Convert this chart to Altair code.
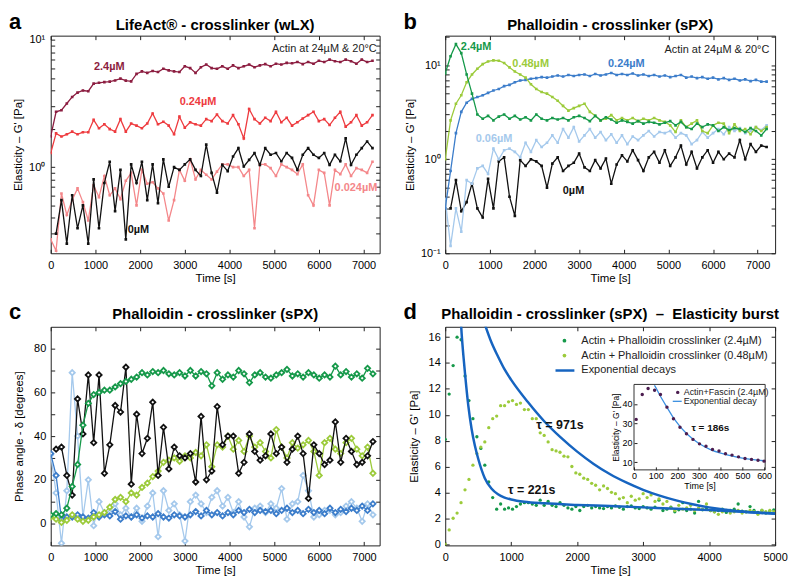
import altair as alt
import pandas as pd

FONT = "Liberation Sans"
TICKC = "#222222"

# ---------------- sampling grids (s) ----------------
T_AB = list(range(0, 7201, 120))
T_AB_LATE = T_AB[1:]
T_D = list(range(0, 4981, 60))

# ---------------- panel a : LifeAct crosslinker (Pa) ----------------
A_24 = [1.74, 2.72, 2.8, 3.16, 3.56, 3.85, 4.0, 3.95, 4.53, 4.6, 4.66, 4.7, 4.8, 4.96, 4.78, 4.72,
        5.4, 5.66, 5.5, 5.7, 5.59, 5.93, 5.76, 5.66, 5.59, 6.2, 6.0, 5.5, 6.1, 6.4, 6.0, 5.93,
        6.2, 5.93, 6.3, 6.0, 6.2, 6.4, 6.1, 6.3, 6.45, 6.2, 6.5, 6.4, 6.6, 6.55, 6.7, 6.45,
        6.7, 6.5, 6.85, 6.7, 7.0, 6.8, 6.7, 7.0, 6.8, 6.5, 7.0, 6.7, 6.85]
A_024 = [1.29, 1.84, 1.74, 1.81, 1.9, 1.81, 1.88, 1.88, 2.35, 2.02, 2.17, 1.99, 1.9, 2.38, 1.9, 2.2,
         2.12, 2.02, 2.2, 2.64, 2.17, 2.27, 2.12, 1.81, 2.49, 2.04, 2.25, 2.17, 2.12, 2.38, 2.3,
         2.59, 2.3, 2.2, 2.56, 2.17, 1.68, 2.86, 2.38, 2.2, 2.44, 2.3, 2.72, 2.25, 2.44, 2.12,
         2.25, 2.41, 2.56, 2.72, 2.3, 2.38, 2.14, 2.44, 2.72, 2.08, 2.25, 2.56, 2.12, 2.25, 2.56]
A_0024 = [0.27, 0.22, 0.62, 0.42, 0.55, 0.68, 0.53, 0.38, 0.72, 0.58, 0.85, 0.6, 0.68, 0.56, 0.78,
          0.9, 0.5, 0.95, 0.74, 0.76, 0.68, 0.62, 0.38, 0.55, 0.95, 0.78, 1.15, 0.8, 0.95, 0.87,
          0.8, 0.92, 1.05, 1.05, 1.0, 1.0, 0.85, 0.95, 0.33, 1.05, 1.05, 0.98, 0.85, 1.05, 1.0,
          0.95, 0.88, 1.05, 0.6, 0.5, 0.95, 0.9, 0.5, 0.95, 0.88, 1.05, 0.85, 0.98, 0.95, 0.9, 1.1]
A_0 = [0.3, 0.55, 0.25, 0.6, 0.33, 0.5, 0.25, 0.8, 0.33, 0.75, 1.1, 0.45, 0.95, 0.27, 1.05, 0.75,
       1.1, 0.55, 1.05, 0.52, 1.15, 0.7, 1.0, 0.95, 1.05, 1.15, 0.95, 0.85, 1.5, 0.9, 0.63, 1.04,
       0.93, 1.21, 1.41, 1.01, 1.14, 1.29, 1.04, 1.41, 1.25, 1.29, 1.11, 1.29, 1.18, 0.95, 1.25,
       1.41, 1.25, 1.18, 1.29, 1.04, 1.25, 1.11, 1.68, 1.04, 1.25, 1.41, 1.59, 1.41]

# ---------------- panel b : Phalloidin crosslinker (Pa) ----------------
B_24 = [8.2, 12.5, 16.8, 13.5, 8.0, 5.0, 3.0, 2.7, 2.9, 2.6, 2.85, 3.0, 2.7, 2.9, 2.65, 2.8, 2.6,
        3.0, 2.7, 2.6, 2.75, 2.65, 2.75, 2.6, 2.8, 2.9, 2.75, 2.55, 2.9, 2.6, 2.8, 2.65, 2.45, 2.6,
        2.5, 2.4, 2.55, 2.4, 2.5, 2.45, 2.35, 2.45, 2.55, 2.3, 2.5, 2.2, 2.1, 2.4, 2.2, 2.35, 2.3,
        2.0, 2.2, 2.05, 2.15, 2.1, 1.95, 2.15, 2.0, 1.8, 2.1]
B_048 = [1.0, 2.6, 3.9, 4.8, 6.6, 8.0, 9.2, 10.3, 11.0, 11.3, 11.2, 10.6, 9.5, 8.6, 8.0, 7.4, 6.3,
         5.6, 5.2, 5.0, 4.6, 4.2, 3.7, 3.3, 3.5, 3.7, 3.9, 3.2, 2.9, 2.6, 2.7, 2.95, 2.6, 2.75, 2.6,
         2.75, 2.55, 2.7, 2.6, 2.75, 2.6, 2.5, 2.3, 1.95, 2.6, 2.2, 2.4, 2.6, 2.0, 1.9, 2.3, 2.45,
         2.4, 1.9, 2.35, 2.0, 2.1, 1.85, 2.2, 2.0, 2.2]
B_024 = [0.3, 0.75, 1.9, 3.2, 4.0, 4.4, 4.6, 4.8, 5.1, 5.4, 5.6, 6.0, 6.2, 6.6, 6.9, 7.0, 7.2, 7.3,
         7.5, 7.4, 7.6, 7.8, 7.6, 7.9, 7.7, 7.9, 8.0, 7.7, 8.1, 7.8, 8.0, 8.3, 7.9, 8.1, 7.9, 8.2,
         7.8, 8.0, 7.7, 7.9, 7.6, 7.8, 7.5, 7.7, 7.9, 7.4, 7.6, 7.3, 7.5, 7.2, 7.4, 7.1, 7.3, 7.0,
         7.2, 6.9, 7.1, 6.8, 7.0, 6.7, 6.7]
B_006 = [0.38, 0.12, 0.3, 0.17, 0.6, 0.55, 0.8, 0.85, 0.7, 1.3, 1.0, 1.25, 1.3, 1.2, 1.05, 1.5, 1.2,
         1.6, 1.35, 1.5, 1.8, 1.5, 2.1, 1.7, 2.2, 1.55, 1.8, 2.1, 1.7, 1.95, 1.6, 1.85, 1.5, 1.8,
         1.45, 1.75, 1.6, 1.8, 2.0, 1.75, 1.95, 1.9, 2.0, 1.7, 1.9, 1.8, 1.45, 1.6, 1.95, 1.7, 1.9,
         2.1, 1.85, 2.2, 2.0, 2.15, 1.9, 2.0, 2.2, 2.05, 2.3]
B_0 = [0.3, 0.6, 0.28, 0.35, 0.55, 0.3, 0.24, 0.62, 0.3, 0.95, 1.05, 0.4, 0.25, 0.98, 0.85, 1.0,
       0.95, 0.85, 0.5, 0.9, 1.05, 0.75, 0.85, 0.92, 1.15, 0.82, 0.75, 0.98, 0.8, 1.02, 0.55, 0.88,
       1.1, 0.95, 1.25, 0.98, 0.75, 1.05, 1.2, 0.92, 1.25, 0.85, 1.05, 1.4, 0.88, 1.2, 0.8, 1.05,
       1.25, 0.92, 1.2, 1.0, 1.15, 1.05, 1.6, 1.0, 1.45, 1.2, 1.4, 1.35]

# ---------------- panel c : phase angle (degrees) ----------------
C_24 = [4, 4.5, 4, 7, 17, 27, 45, 55, 59, 60, 61, 61, 62.5, 64, 65, 66, 67, 69, 68, 69.5, 69, 70,
        68.5, 68, 69, 67.5, 70, 67.5, 69.5, 68.5, 63, 69, 66, 68, 67, 70, 68.5, 64.5, 68, 69, 67,
        66.5, 68, 69, 70.5, 67.5, 68.5, 67, 69, 68, 66.5, 68, 67, 72, 68, 69.5, 67, 68.5, 66.5, 71, 68.5]
C_048 = [3, 2, 0.5, 1.5, 4, 2, 1, 1.5, 3, 4, 5, 7.5, 11, 12, 10, 14, 13, 16.5, 18.5, 21.5, 24, 28,
         29, 30, 28.5, 31, 30, 32.5, 31, 36, 26, 36, 35, 40, 34, 38, 33, 40, 35, 37, 33, 30, 43, 35,
         30, 37, 34.5, 36, 38, 33, 22, 37, 39, 34, 32, 37, 39, 34, 31, 35, 23]
C_0 = [34, 35, 22, 13, 57, 41, 68, 37, 68, 23, 36, 54, 51, 71.5, 18, 50, 32, 39, 55.5, 22, 44, 25,
       35, 31, 30, 32, 19, 49, 20, 24, 53.5, 36, 40, 40, 23, 28, 41, 33, 29, 31, 41, 32, 35, 28, 34,
       40, 32, 11.5, 36, 32, 27, 29, 46.5, 28, 39, 33, 27, 28, 31, 37.5]
C_006 = [31.5, 14, -9, 15, 69, 40, 3, 20, -1, 10, 5, 5, 9, 4, 7, 3, 7, 1, 8, 14, -6, 15, 6, 9, 4,
         -8, 10, 13, 9, 5, 12, 15, 8, 12, 5, 10, 3, -1.5, 7, 8, 5, 9, 7, 16, 2, 9, 10, 22, 15, 3, 4,
         6, 6, 4, 5, 8, 10, 7, 1, 9, 4]
C_024 = [32, 22, 2, 3, 3, 4, 3, 2.5, 5, 3, 4, 3.5, 5.5, 2, 3.5, 3, 4, 2.5, 3.5, 3, 4.5, 3, 2.5, 4,
         3.5, 3, 4, 5.5, 3.5, 6, 4, 5, 3.5, 5, 4, 6, 5, 6.5, 5, 6, 5.5, 6, 4.5, 6, 7, 5, 6, 4.5,
         6.5, 5, 6, 4.5, 7, 5, 6.5, 5.5, 7, 6, 8, 6, 9]

# ---------------- panel d : elasticity burst (Pa) ----------------
D_24 = [8.1, 11.6, 13.8, 16.0, 15.8, 13.0, 11.1, 9.7, 8.3, 7.4,
        6.1, 4.8, 3.6, 2.7, 3.1, 2.7, 2.8, 2.7, 2.9, 3.1,
        3.2, 3.2, 3.1, 3.0, 3.4, 3.0, 3.3, 3.0, 2.9, 3.2,
        3.0, 2.8, 2.7, 2.9, 2.6, 2.9, 3.0, 2.8, 2.9, 2.8,
        2.75, 2.9, 2.8, 2.95, 2.85, 2.7, 2.9, 2.95, 2.8, 2.75,
        2.9, 2.8, 2.7, 2.85, 3.4, 2.6, 2.7, 2.85, 2.5, 2.65,
        3.2, 2.6, 2.7, 2.4, 3.3, 2.65, 2.7, 2.6, 2.5, 2.6,
        2.7, 2.45, 2.6, 2.7, 3.1, 2.55, 2.5, 2.9, 2.6, 2.45,
        2.6, 2.4, 2.55, 2.65]
D_048 = [0.0, 1.1, 2.0, 2.4, 3.2, 4.2, 5.0, 6.1, 7.0, 7.5,
         7.9, 9.0, 9.7, 9.9, 10.7, 10.7, 11.0, 11.1, 10.8, 10.9,
         10.4, 10.4, 9.7, 9.7, 8.6, 8.4, 7.9, 7.3, 7.2, 7.1,
         6.8, 6.75, 6.0, 5.5, 5.4, 5.1, 5.0, 4.7, 4.55, 4.2,
         4.5, 4.3, 4.0, 3.9, 3.5, 3.6, 3.2, 3.7, 3.4, 3.5,
         3.9, 3.6, 3.8, 3.3, 3.5, 3.1, 3.3, 2.8, 2.6, 3.0,
         2.7, 2.8, 3.0, 2.6, 2.8, 2.7, 3.1, 2.6, 2.5, 2.3,
         2.5, 2.6, 2.4, 2.5, 2.6, 2.4, 2.5, 2.6, 2.5, 2.3,
         2.6, 2.5, 2.6, 2.5]
FAST_T = [225, 250, 275, 300, 350, 400, 450, 500, 600, 700, 800, 900, 1000, 1200, 1500, 2000, 2500,
          3000, 3500, 4000, 4500, 5000]
FAST_G = [18.2, 16.2, 14.6, 13.2, 10.7, 8.9, 7.6, 6.6, 5.1, 4.3, 3.85, 3.6, 3.45, 3.27, 3.15, 3.03,
          2.94, 2.84, 2.74, 2.63, 2.5, 2.36]
SLOW_T = [600, 700, 800, 900, 1000, 1250, 1500, 1750, 2000, 2250, 2500, 2750, 3000, 3250, 3500,
          3750, 4000, 4250, 4500, 4750, 5000]
SLOW_G = [17.0, 15.6, 14.5, 13.5, 12.7, 11.0, 9.5, 8.25, 7.15, 6.2, 5.4, 4.75, 4.2, 3.75, 3.38,
          3.08, 2.84, 2.66, 2.52, 2.42, 2.35]
# inset : Actin + Fascin
IN_T = [10, 38, 65, 95, 122, 152, 182, 212, 242, 272, 302, 332, 362, 392, 422, 452, 482, 512, 542, 572, 600]
IN_G = [32.0, 44.8, 47.9, 47.0, 44.8, 38.3, 32.3, 28.0, 24.6, 21.7, 19.4, 18.2, 16.5, 15.7, 14.3,
        13.6, 12.7, 11.9, 11.4, 11.0, 10.5]
INFIT_T = [94, 100, 120, 150, 180, 210, 240, 270, 300, 350, 400, 450, 500, 550, 600]
INFIT_G = [49.5, 48.5, 44.3, 38.6, 33.2, 28.7, 25.0, 22.0, 19.6, 16.6, 14.6, 13.2, 12.1, 11.3, 10.7]

# ---------------- labels ----------------
ANN_A = {"label": ["2.4µM", "0.24µM", "0.024µM", "0µM"], "t": [1310, 3296, 6830, 1963],
         "v": [6.1, 3.22, 0.69, 0.318], "col": ["#8C1D40", "#EE3B3F", "#F4878A", "#111111"]}
ANN_B = {"label": ["2.4µM", "0.48µM", "0.24µM", "0.06µM", "0µM"], "t": [692, 1914, 4058, 1095, 2874],
         "v": [15.8, 10.4, 10.4, 1.65, 0.46],
         "col": ["#16994A", "#9CCB3B", "#3C7DCA", "#A5C9EC", "#111111"]}
ANN_D = {"label": ["τ = 971s", "τ = 221s"], "t": [1739, 1310], "v": [9.18, 4.2]}
ANN_IN = {"label": ["τ = 186s"], "t": [352], "v": [27.3]}
COND_A = {"label": ["Actin at 24µM & 20°C"], "t": [7296], "v": [8.5]}
COND_B = {"label": ["Actin at 24µM & 20°C"], "t": [7260], "v": [14.6]}

X_TICKS = [0, 1000, 2000, 3000, 4000, 5000, 6000, 7000]
A_YTICKS = [0.3, 0.4, 0.5, 0.6, 0.7, 0.8, 0.9, 1, 2, 3, 4, 5, 6, 7, 8, 9, 10]
B_YTICKS = [0.1, 0.2, 0.3, 0.4, 0.5, 0.6, 0.7, 0.8, 0.9, 1, 2, 3, 4, 5, 6, 7, 8, 9, 10, 20]
C_YTICKS = [0, 10, 20, 30, 40, 50, 60, 70, 80]
D_XTICKS = [0, 1000, 2000, 3000, 4000, 5000]
D_YTICKS = [0, 2, 4, 6, 8, 10, 12, 14, 16]
IN_XTICKS = [0, 100, 200, 300, 400, 500, 600]
IN_YTICKS = [10, 20, 30, 40]

DR, RED, PINK, BLK = "#8C1D40", "#EE3B3F", "#F4878A", "#111111"
GRN, LGRN, BLU, LBLU = "#16994A", "#9CCB3B", "#3C7DCA", "#A5C9EC"
FIT, PURP, INFIT = "#1664C0", "#4B1D4F", "#3A8EE0"

LOG_LABEL = "datum.value == 0.1 ? '10⁻¹' : datum.value == 1 ? '10⁰' : datum.value == 10 ? '10¹' : ''"
DUMMY = pd.DataFrame({"k": [0]})
YT = "Elasticity – G' [Pa]"


def main_axis(orient, values, title, label_expr=None, lp=5, tp=5, fmt=None):
    kw = dict(orient=orient, values=values, offset=-4, tickSize=4, domain=False, grid=False,
              title=title, labelFont=FONT, labelFontSize=11, labelColor="black", labelPadding=lp,
              labelOverlap=False, labelFlush=False, titleFont=FONT, titleFontSize=11.5,
              titleFontWeight="normal", titleColor="black", titlePadding=tp, tickColor=TICKC,
              minExtent=0)
    if label_expr:
        kw["labelExpr"] = label_expr
    if fmt:
        kw["format"] = fmt
    return alt.Axis(**kw)


def mirror_axis(orient, values):
    return alt.Axis(orient=orient, values=values, offset=-4, tickSize=4, labels=False, domain=False,
                    grid=False, title=None, tickColor=TICKC, minExtent=0)


def make_enc(xs, ys, xa, ya):
    return (lambda: alt.X("t:Q", scale=xs, axis=xa), lambda: alt.Y("v:Q", scale=ys, axis=ya))


def series(times, vals, color, X, Y, shape="square", size=7, sw=1.3, fill=None, psw=1.2):
    base = alt.Chart(pd.DataFrame({"t": times, "v": vals}))
    line = base.mark_line(color=color, strokeWidth=sw, clip=True).encode(x=X(), y=Y())
    if fill:
        pt = base.mark_point(shape=shape, size=size, stroke=color, fill=fill, filled=True,
                             strokeWidth=psw, opacity=1, clip=True)
    else:
        pt = base.mark_point(shape=shape, size=size, color=color, filled=True, opacity=1, clip=True)
    return [line, pt.encode(x=X(), y=Y())]


def labels(d, X, Y, **mk):
    df = pd.DataFrame(d)
    enc = dict(x=X(), y=Y(), text="label:N")
    if "col" in d:
        enc["color"] = alt.Color("col:N", scale=None)
    return alt.Chart(df).mark_text(font=FONT, baseline="middle", **mk).encode(**enc)


def fixed_text(txt, x, y, **mk):
    return alt.Chart(DUMMY).mark_text(text=txt, font=FONT, **mk).encode(x=alt.value(x), y=alt.value(y))


def mirror(xs, ys, xvals, yvals, t0, v0):
    return alt.Chart(pd.DataFrame({"t": [t0], "v": [v0]})).mark_point(opacity=0).encode(
        x=alt.X("t:Q", scale=xs, axis=mirror_axis("top", xvals)),
        y=alt.Y("v:Q", scale=ys, axis=mirror_axis("right", yvals)))


def head(letter, title, w, ly, ty):
    return [fixed_text(letter, -42, ly, fontSize=22, fontWeight="bold", align="left",
                       baseline="alphabetic", color="black"),
            fixed_text(title, w / 2, ty, fontSize=15, fontWeight="bold", align="center",
                       baseline="alphabetic", color="black")]


# ---------------- panel a ----------------
WA, HA = 331, 219
xs_a = alt.Scale(domain=[0, 7360], nice=False, zero=False)
ys_a = alt.Scale(type="log", domain=[0.21, 10.8], nice=False)
Xa, Ya = make_enc(xs_a, ys_a, main_axis("bottom", X_TICKS, "Time [s]", lp=6, tp=2, fmt="d"),
                  main_axis("left", A_YTICKS, YT, LOG_LABEL, lp=6, tp=5))
layers_a = (series(T_AB, A_0024, PINK, Xa, Ya) + series(T_AB_LATE, A_0, BLK, Xa, Ya)
            + series(T_AB, A_024, RED, Xa, Ya) + series(T_AB, A_24, DR, Xa, Ya)
            + [labels(ANN_A, Xa, Ya, fontSize=11, fontWeight="bold", align="center"),
               labels(COND_A, Xa, Ya, fontSize=11, align="right", color="#222222")]
            + head("a", "LifeAct® - crosslinker (wLX)", WA, -7, -6))
panel_a = alt.layer(alt.layer(*layers_a), mirror(xs_a, ys_a, X_TICKS, A_YTICKS, 0, 1)).resolve_axis(
    x="independent", y="independent").properties(width=WA, height=HA)

# ---------------- panel b ----------------
WB, HB = 332, 219
xs_b = alt.Scale(domain=[0, 7390], nice=False, zero=False)
ys_b = alt.Scale(type="log", domain=[0.1, 20.7], nice=False)
Xb, Yb = make_enc(xs_b, ys_b, main_axis("bottom", X_TICKS, "Time [s]", lp=6, tp=2, fmt="d"),
                  main_axis("left", B_YTICKS, YT, LOG_LABEL, lp=5, tp=5))
layers_b = (series(T_AB_LATE, B_0, BLK, Xb, Yb) + series(T_AB, B_006, LBLU, Xb, Yb)
            + series(T_AB, B_024, BLU, Xb, Yb) + series(T_AB, B_048, LGRN, Xb, Yb)
            + series(T_AB, B_24, GRN, Xb, Yb)
            + [labels(ANN_B, Xb, Yb, fontSize=11, fontWeight="bold", align="center"),
               labels(COND_B, Xb, Yb, fontSize=11, align="right", color="#222222")]
            + head("b", "Phalloidin - crosslinker (sPX)", WB, -7, -6))
panel_b = alt.layer(alt.layer(*layers_b), mirror(xs_b, ys_b, X_TICKS, B_YTICKS, 0, 1)).resolve_axis(
    x="independent", y="independent").properties(width=WB, height=HB)

# ---------------- panel c ----------------
WC, HC = 331, 220
xs_c = alt.Scale(domain=[0, 7350], nice=False, zero=False)
ys_c = alt.Scale(domain=[-10, 90], nice=False, zero=False)
Xc, Yc = make_enc(xs_c, ys_c, main_axis("bottom", X_TICKS, "Time [s]", lp=6, tp=2, fmt="d"),
                  main_axis("left", C_YTICKS, "Phase angle - δ [degrees]",
                            "datum.value % 20 == 0 ? datum.label : ''", lp=5, tp=9))
dia = dict(shape="diamond", size=28, fill="white", sw=1.3, psw=1.8)
layers_c = (series(T_AB, C_006, LBLU, Xc, Yc, **dia) + series(T_AB, C_024, BLU, Xc, Yc, **dia)
            + series(T_AB, C_048, LGRN, Xc, Yc, **dia) + series(T_AB_LATE, C_0, BLK, Xc, Yc, **dia)
            + series(T_AB, C_24, GRN, Xc, Yc, **dia)
            + head("c", "Phalloidin - crosslinker (sPX)", WC, -8, -8))
panel_c = alt.layer(alt.layer(*layers_c), mirror(xs_c, ys_c, X_TICKS, C_YTICKS, 0, 0)).resolve_axis(
    x="independent", y="independent").properties(width=WC, height=HC)

# ---------------- panel d ----------------
WD, HD = 332, 220
xs_d = alt.Scale(domain=[0, 5000], nice=False, zero=False)
ys_d = alt.Scale(domain=[-0.1, 16.8], nice=False, zero=False)
Xd, Yd = make_enc(xs_d, ys_d, main_axis("bottom", D_XTICKS, "Time [s]", lp=6, tp=2, fmt="d"),
                  main_axis("left", D_YTICKS, YT, lp=5, tp=9))


def dots(times, vals, color, X, Y, size=11):
    return alt.Chart(pd.DataFrame({"t": times, "v": vals})).mark_circle(
        color=color, size=size, opacity=1, clip=True).encode(x=X(), y=Y())


def curve(times, vals, color, X, Y, sw):
    return alt.Chart(pd.DataFrame({"t": times, "v": vals})).mark_line(
        color=color, strokeWidth=sw, interpolate="monotone", clip=True).encode(x=X(), y=Y())


legend_d = [
    alt.Chart(DUMMY).mark_circle(color=GRN, size=14, opacity=1).encode(x=alt.value(120), y=alt.value(14)),
    alt.Chart(DUMMY).mark_circle(color=LGRN, size=14, opacity=1).encode(x=alt.value(120), y=alt.value(29)),
    alt.Chart(DUMMY).mark_rule(color=FIT, strokeWidth=2.5).encode(
        x=alt.value(111), x2=alt.value(130), y=alt.value(44)),
    fixed_text("Actin + Phalloidin crosslinker (2.4µM)", 137, 14, fontSize=11, align="left",
               baseline="middle", color="#222222"),
    fixed_text("Actin + Phalloidin crosslinker (0.48µM)", 137, 29, fontSize=11, align="left",
               baseline="middle", color="#222222"),
    fixed_text("Exponential decays", 137, 44, fontSize=11, align="left", baseline="middle",
               color="#222222"),
]
layers_d = ([dots(T_D, D_24, GRN, Xd, Yd), dots(T_D, D_048, LGRN, Xd, Yd),
             curve(FAST_T, FAST_G, FIT, Xd, Yd, 2.5), curve(SLOW_T, SLOW_G, FIT, Xd, Yd, 2.5),
             labels(ANN_D, Xd, Yd, fontSize=12.5, fontWeight="bold", align="center", color="#111111")]
            + legend_d
            + head("d", "Phalloidin - crosslinker (sPX)\u00a0 –\u00a0 Elasticity burst", WD, -8, -8))
main_d = alt.layer(alt.layer(*layers_d), mirror(xs_d, ys_d, D_XTICKS, D_YTICKS, 0, 0)).resolve_axis(
    x="independent", y="independent")

# inset (own scales placed inside panel d)
xs_in = alt.Scale(domain=[0, 605], range=[190, 322], nice=False, zero=False)
ys_in = alt.Scale(domain=[6, 50], range=[144, 58], nice=False, zero=False)
ax_in_x = alt.Axis(orient="bottom", values=IN_XTICKS, offset=-79, tickSize=3, domain=False, grid=False,
                   title="Time [s]", labelFont=FONT, labelFontSize=9, labelColor="black", labelPadding=2,
                   labelOverlap=False, labelFlush=False, titleFont=FONT, titleFontSize=9,
                   titleFontWeight="normal", titleColor="black", titlePadding=1, tickColor=TICKC,
                   format="d", zindex=1, minExtent=0)
ax_in_y = alt.Axis(orient="left", values=IN_YTICKS, offset=-193, tickSize=3, domain=False, grid=False,
                   title=YT, labelFont=FONT, labelFontSize=9, labelColor="black", labelPadding=2,
                   labelOverlap=False, titleFont=FONT, titleFontSize=8.5, titleFontWeight="normal",
                   titleColor="black", titlePadding=2, tickColor=TICKC, zindex=1, minExtent=0)
Xin, Yin = make_enc(xs_in, ys_in, ax_in_x, ax_in_y)
inset_layers = [
    alt.Chart(DUMMY).mark_rect(fill="white", stroke="#333333", strokeWidth=1).encode(
        x=alt.value(190), x2=alt.value(322), y=alt.value(58), y2=alt.value(144)),
    alt.Chart(pd.DataFrame({"t": INFIT_T, "v": INFIT_G})).mark_line(
        color=INFIT, strokeWidth=1.3, interpolate="monotone").encode(x=Xin(), y=Yin()),
    alt.Chart(pd.DataFrame({"t": IN_T, "v": IN_G})).mark_circle(
        color=PURP, size=12, opacity=1).encode(x=Xin(), y=Yin()),
    labels(ANN_IN, Xin, Yin, fontSize=10, fontWeight="bold", align="center", color="#111111"),
    alt.Chart(DUMMY).mark_circle(color=PURP, size=12, opacity=1).encode(x=alt.value(234), y=alt.value(66)),
    alt.Chart(DUMMY).mark_rule(color=INFIT, strokeWidth=1.3).encode(
        x=alt.value(229), x2=alt.value(238), y=alt.value(75)),
    fixed_text("Actin+Fascin (2.4µM)", 240, 66, fontSize=9, align="left", baseline="middle",
               color="#222222"),
    fixed_text("Exponential decay", 240, 75, fontSize=9, align="left", baseline="middle",
               color="#222222"),
]
inset = alt.layer(*inset_layers)
panel_d = alt.layer(main_d, inset).resolve_scale(x="independent", y="independent").properties(
    width=WD, height=HD)

chart = alt.concat(panel_a, panel_b, panel_c, panel_d, columns=2).properties(
    spacing={"row": 74, "column": 66}, bounds="flush",
    padding={"left": 0, "top": 0, "right": 4, "bottom": 4},
).configure_view(stroke="#222222", strokeWidth=1)

chart.save("out.html", embed_options={"renderer": "svg", "actions": False})
